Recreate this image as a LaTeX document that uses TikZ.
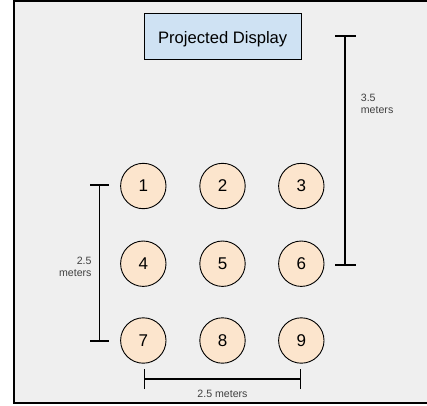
\documentclass[tikz,border=0pt]{standalone}
\usepackage{fontspec}
\setmainfont{Liberation Sans}
\definecolor{bgray}{RGB}{239,239,239}
\definecolor{dispblue}{RGB}{207,226,243}
\definecolor{seatpeach}{RGB}{252,229,205}
\begin{document}
\begin{tikzpicture}[x=1pt,y=-1pt,
  seat/.style={circle,draw=black,line width=0.9pt,fill=seatpeach,minimum size=45.4pt,inner sep=0pt,font=\fontsize{17}{20}\selectfont},
  dimline/.style={line width=1.2pt,draw=black},
  dimtext/.style={inner sep=0pt,font=\fontsize{10.6}{11.8}\selectfont,text=black!75}
]
\useasboundingbox (0,0) rectangle (427,405);
\fill[white] (0,0) rectangle (427,405);
\fill[bgray] (14,1) rectangle (427,403);
\draw[line width=2pt] (427,1) -- (14.3,1) -- (14.3,403) -- (427,403);
\node[draw=black,line width=0.9pt,fill=dispblue,minimum width=156.5pt,minimum height=45.5pt,inner sep=0pt,text height=13.6pt,text depth=0pt,font=\fontsize{16.6}{19}\selectfont] (display) at (222.7,36.5) {Projected Display};
\node[seat] (s1) at (143.3,186) {1};
\node[seat] (s2) at (222.5,186) {2};
\node[seat] (s3) at (301.3,186) {3};
\node[seat] (s4) at (143.3,263.7) {4};
\node[seat] (s5) at (222.5,263.7) {5};
\node[seat] (s6) at (301.3,263.7) {6};
\node[seat] (s7) at (143.3,340.5) {7};
\node[seat] (s8) at (222.5,340.5) {8};
\node[seat] (s9) at (301.3,340.5) {9};
% right dimension
\coordinate (rt) at (345,36);
\coordinate (rb) at (345,265);
\draw[dimline] (rt) -- (rb);
\draw[dimline] ([xshift=-10pt]rt) -- ([xshift=10.5pt]rt);
\draw[dimline] ([xshift=-10pt]rb) -- ([xshift=10.5pt]rb);
\node[dimtext,align=left,anchor=north west] (rlab) at (360.7,94.3) {3.5\\meters};
% left dimension
\coordinate (lt) at (99.3,185);
\coordinate (lb) at (99.3,341);
\draw[dimline] (lt) -- (lb);
\draw[dimline] ([xshift=-9.3pt]lt) -- ([xshift=10pt]lt);
\draw[dimline] ([xshift=-9.3pt]lb) -- ([xshift=10pt]lb);
\node[dimtext,align=right,anchor=north east] (llab) at (91.7,256.7) {2.5\\meters};
% bottom dimension
\coordinate (bl) at (144.3,379);
\coordinate (br) at (300.7,379);
\draw[dimline] (bl) -- (br);
\draw[dimline] ([yshift=-10pt]bl) -- ([yshift=10pt]bl);
\draw[dimline] ([yshift=-10pt]br) -- ([yshift=10pt]br);
\node[dimtext,anchor=base] (blab) at (222.5,397) {2.5 meters};
\end{tikzpicture}
\end{document}
